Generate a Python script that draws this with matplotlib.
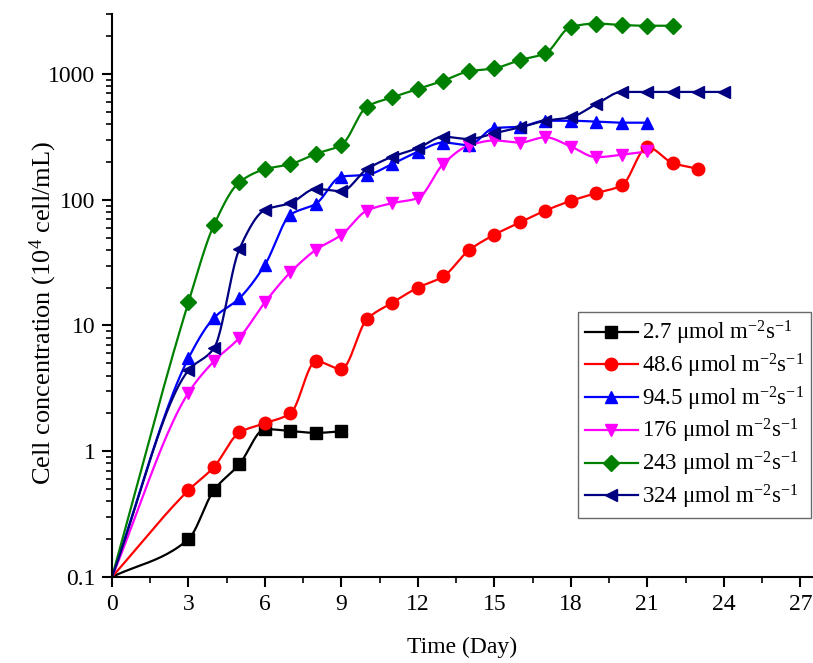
import numpy as np
import matplotlib
matplotlib.use("Agg")
import matplotlib.pyplot as plt
from matplotlib.ticker import LogLocator, MultipleLocator, FixedLocator, FixedFormatter, NullFormatter

plt.rcParams['font.family'] = ['Liberation Serif', 'DejaVu Serif']
plt.rcParams['mathtext.fontset'] = 'custom'
plt.rcParams['mathtext.rm'] = 'Liberation Serif'
plt.rcParams['mathtext.it'] = 'Liberation Serif:italic'

# data (cell concentration, 10^4 cell/mL)
days_27 = [0, 3, 4, 5, 6, 7, 8, 9]
conc_27 = [0.1, 0.2, 0.49, 0.79, 1.5, 1.45, 1.4, 1.44]

days_486 = [0, 3, 4, 5, 6, 7, 8, 9, 10, 11, 12, 13, 14, 15, 16, 17, 18, 19, 20, 21, 22, 23]
conc_486 = [0.1, 0.49, 0.75, 1.41, 1.67, 2.0, 5.2, 4.5, 11.2, 15.2, 20, 24.6,
            39.6, 52.7, 66, 82, 98, 113, 130, 262, 196, 176]

days_945 = [0, 3, 4, 5, 6, 7, 8, 9, 10, 11, 12, 13, 14, 15, 16, 17, 18, 19, 20, 21]
conc_945 = [0.1, 5.5, 11.5, 16.5, 30.4, 76, 93, 153, 158, 193, 241, 285, 272,
            372, 380, 425, 425, 418, 410, 410]

days_176 = [0, 3, 4, 5, 6, 7, 8, 9, 10, 11, 12, 13, 14, 15, 16, 17, 18, 19, 20, 21]
conc_176 = [0.1, 2.92, 5.2, 8.0, 15.3, 26.5, 40, 52.6, 82, 94, 103, 193, 270,
            296, 285, 314, 265, 218, 228, 242]

days_243 = [0, 3, 4, 5, 6, 7, 8, 9, 10, 11, 12, 13, 14, 15, 16, 17, 18, 19, 20, 21, 22]
conc_243 = [0.1, 15.3, 63, 138, 175, 192, 232, 273, 550, 653, 760, 885, 1050,
            1110, 1290, 1460, 2370, 2520, 2450, 2420, 2420]

days_324 = [0, 3, 4, 5, 6, 7, 8, 9, 10, 11, 12, 13, 14, 15, 16, 17, 18, 19, 20, 21, 22, 23, 24]
conc_324 = [0.1, 4.4, 6.6, 40.7, 83, 94, 122, 117, 175, 220, 257, 317, 304,
            338, 376, 425, 453, 577, 720, 720, 720, 720, 720]

labels = ["2.7 μmol m$^{-2}$s$^{-1}$", "48.6 μmol m$^{-2}$s$^{-1}$",
          "94.5 μmol m$^{-2}$s$^{-1}$", "176 μmol m$^{-2}$s$^{-1}$",
          "243 μmol m$^{-2}$s$^{-1}$", "324 μmol m$^{-2}$s$^{-1}$"]

series = [(days_27, conc_27), (days_486, conc_486), (days_945, conc_945),
          (days_176, conc_176), (days_243, conc_243), (days_324, conc_324)]
colors = ['black', '#ff0000', '#0000ff', '#ff00ff', '#008000', '#000080']
markers = ['s', 'o', '^', 'v', 'D', '<']
msizes = [8, 9, 9, 9, 8, 9]


def smooth(x, y, n=25):
    # monotone cubic (pchip) curve in (x, log y) space
    x = np.asarray(x, float)
    ly = np.log10(np.asarray(y, float))
    h = np.diff(x)
    dl = np.diff(ly) / h
    m = np.zeros_like(ly)
    for k in range(1, len(x) - 1):
        if dl[k - 1] * dl[k] > 0:
            w1 = 2 * h[k] + h[k - 1]
            w2 = h[k] + 2 * h[k - 1]
            m[k] = (w1 + w2) / (w1 / dl[k - 1] + w2 / dl[k])
    m[0] = dl[0]
    m[-1] = dl[-1]
    xs, ys = [], []
    for k in range(len(x) - 1):
        t = np.linspace(0, 1, n, endpoint=False)
        h00 = 2 * t ** 3 - 3 * t ** 2 + 1
        h10 = t ** 3 - 2 * t ** 2 + t
        h01 = -2 * t ** 3 + 3 * t ** 2
        h11 = t ** 3 - t ** 2
        xs.extend(x[k] + t * h[k])
        ys.extend(h00 * ly[k] + h10 * h[k] * m[k] + h01 * ly[k + 1] + h11 * h[k] * m[k + 1])
    xs.append(x[-1])
    ys.append(ly[-1])
    return np.array(xs), 10 ** np.array(ys)


fig = plt.figure(figsize=(8.13, 6.63), dpi=100)
ax = fig.add_axes([112 / 813, 86 / 663, 701 / 813, 563 / 663])

for (d, c), col, m, ms, lab in zip(series, colors, markers, msizes, labels):
    sx, sy = smooth(d, c)
    ax.plot(sx, sy, color=col, lw=1.6, zorder=2)
    ax.plot(d[1:], c[1:], linestyle='none', marker=m, color=col, ms=ms, zorder=3)
    ax.plot([], [], color=col, lw=1.6, marker=m, ms=ms, label=lab)

ax.set_yscale('log')
ax.set_xlim(0, 27.5)
ax.set_ylim(0.1, 3000)
ax.xaxis.set_major_locator(MultipleLocator(3))
ax.xaxis.set_minor_locator(MultipleLocator(1.5))
ax.yaxis.set_major_locator(FixedLocator([0.1, 1, 10, 100, 1000]))
ax.yaxis.set_major_formatter(FixedFormatter(['0.1', '1', '10', '100', '1000']))
ax.yaxis.set_minor_locator(LogLocator(base=10, subs=np.arange(2, 10), numticks=20))
ax.yaxis.set_minor_formatter(NullFormatter())

for s in ['top', 'right']:
    ax.spines[s].set_visible(False)
for s in ['left', 'bottom']:
    ax.spines[s].set_linewidth(1.5)
ax.tick_params(which='major', direction='out', length=7, width=1.5, labelsize=17, pad=5)
ax.tick_params(which='minor', direction='out', length=4, width=1.2)

ax.set_xlabel("Time (Day)", fontsize=17, labelpad=16)
ax.set_ylabel("Cell concentration (10$^4$ cell/mL)", fontsize=19)
ax.yaxis.set_label_coords(-0.076, 0.469)

leg = ax.legend(loc='upper left', bbox_to_anchor=(578 / 813, (663 - 312) / 663),
                bbox_transform=fig.transFigure, fontsize=16.5, frameon=True,
                fancybox=False, edgecolor='#444444', handlelength=2.3,
                handletextpad=0.2, labelspacing=0.2, borderpad=0.3,
                borderaxespad=0)
leg.get_frame().set_linewidth(1.0)

fig.savefig("out.png", dpi=100)
